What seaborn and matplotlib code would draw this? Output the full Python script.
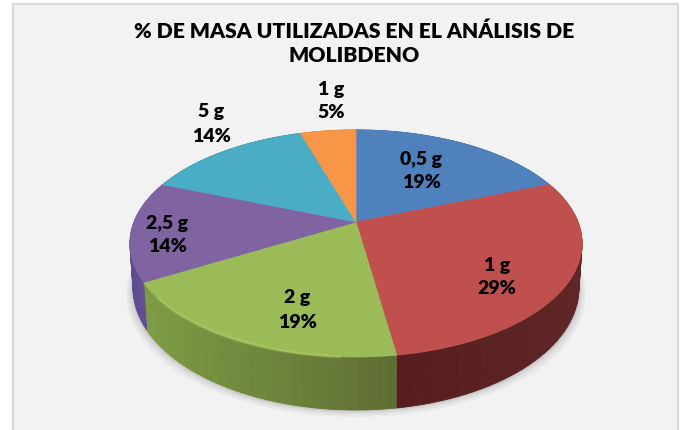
import numpy as np
import matplotlib
matplotlib.use('Agg')
import matplotlib.pyplot as plt
from matplotlib.patches import Polygon, Rectangle
import seaborn as sns

# Data
masas = ['0,5 g', '1 g', '2 g', '2,5 g', '5 g', '1 g']
valores = [4, 6, 4, 3, 3, 1]
colores = ['#4f81bd', '#c0504d', '#9bbb59', '#8064a2', '#4bacc6', '#f79646']
rim_inicio = ['#3a5f8c', '#561e1e', '#7d9c45', '#5f4a90', '#35808f', '#b86f30']
rim_fin = ['#3a5f8c', '#5e2626', '#5e6c34', '#6a5299', '#35808f', '#b86f30']
titulo = '% DE MASA UTILIZADAS EN EL ANÁLISIS DE\nMOLIBDENO'
pos_etiquetas = [(421, 171), (497, 277), (297, 310), (167, 235), (211, 124), (331, 101)]

sns.set_theme(style='white')
plt.rcParams['font.family'] = ['Lato', 'DejaVu Sans']

fig = plt.figure(figsize=(6.84, 4.3), dpi=100, facecolor='white')
ax = fig.add_axes([0, 0, 1, 1])

wedges, _ = ax.pie(valores, colors=colores, startangle=90, counterclock=False)
angulos = [(w.theta1, w.theta2) for w in wedges]
for w in wedges:
    w.remove()

ax.set_aspect('auto')
ax.set_xlim(0, 684)
ax.set_ylim(430, 0)
ax.axis('off')

ax.add_patch(Rectangle((12.5, 3.5), 665, 430, fc='#f2f2f2', ec='#d9d9d9', lw=1.5, zorder=0))

# perspective of the tilted disc, the pie centre lands at (356, 222)
CX, CY = 356, 222
RX, RY, K = 222, 109.5, 0.189
DEPTH = 43


def arriba(t):
    x, y = np.cos(np.radians(t)), np.sin(np.radians(t))
    w = 1 + K * y
    return CX + RX * x / w, CY - RY * y / w


def abajo(t):
    x, y = np.cos(np.radians(t)), np.sin(np.radians(t))
    w = 1 + K * y
    return CX + 0.986 * RX * x / w, CY - RY * y / w + DEPTH / w


# soft shadow under the disc
ts = np.linspace(0, 360, 241)
xs, ys = abajo(ts)
for grow, alpha in [(7, 0.05), (5, 0.06), (3, 0.08), (1.5, 0.1)]:
    pts = np.column_stack([CX + (xs - CX) * (1 + grow / 230), ys + grow])
    ax.add_patch(Polygon(pts, fc='#555555', ec='none', alpha=alpha, zorder=1))

# side of the disc
for (t1, t2), c1, c2 in zip(angulos, rim_inicio, rim_fin):
    n = max(int(abs(t2 - t1) / 2), 2)
    # colour runs left to right on the front, so go by screen x
    t = np.linspace(t1, t2, n + 1)
    x_mid = arriba(t)[0]
    orden = (x_mid - x_mid.min()) / max(x_mid.max() - x_mid.min(), 1)
    a, b = np.array(matplotlib.colors.to_rgb(c1)), np.array(matplotlib.colors.to_rgb(c2))
    for i in range(n):
        xa, ya = arriba(t[i:i + 2])
        xb, yb = abajo(t[i:i + 2])
        quad = np.column_stack([np.r_[xa, xb[::-1]], np.r_[ya, yb[::-1]]])
        col = a + (b - a) * orden[i]
        ax.add_patch(Polygon(quad, fc=col, ec=col, lw=0.6, zorder=2))

# top face
for (t1, t2), color in zip(angulos, colores):
    t = np.linspace(t1, t2, int(abs(t2 - t1)) + 2)
    xa, ya = arriba(t)
    pts = np.column_stack([np.r_[CX, xa], np.r_[CY, ya]])
    ax.add_patch(Polygon(pts, fc=color, ec=color, lw=0.5, zorder=3))

# light edge on the green part, blurred by stacking widths
t1, t2 = angulos[2]
t = np.linspace(t1 + 8, t2 - 12, 80)
xa, ya = arriba(t)
for lw, alpha in [(3, 0.15), (1.5, 0.3)]:
    ax.plot(xa, ya, color='#b8d66f', lw=lw, alpha=alpha, zorder=4, solid_capstyle='round')

# labels
total = sum(valores)
for masa, v, (x, y) in zip(masas, valores, pos_etiquetas):
    ax.text(x, y, f'{masa}\n{round(100 * v / total)}%', ha='center', va='center',
            fontsize=14, fontweight='heavy', color='black', linespacing=1.5, zorder=5)

ax.text(354, 43.5, titulo, ha='center', va='center', fontsize=15.2, fontweight='heavy',
        color='black', linespacing=1.3, zorder=5)

fig.savefig('out.png', dpi=100, facecolor='white')
plt.close(fig)
